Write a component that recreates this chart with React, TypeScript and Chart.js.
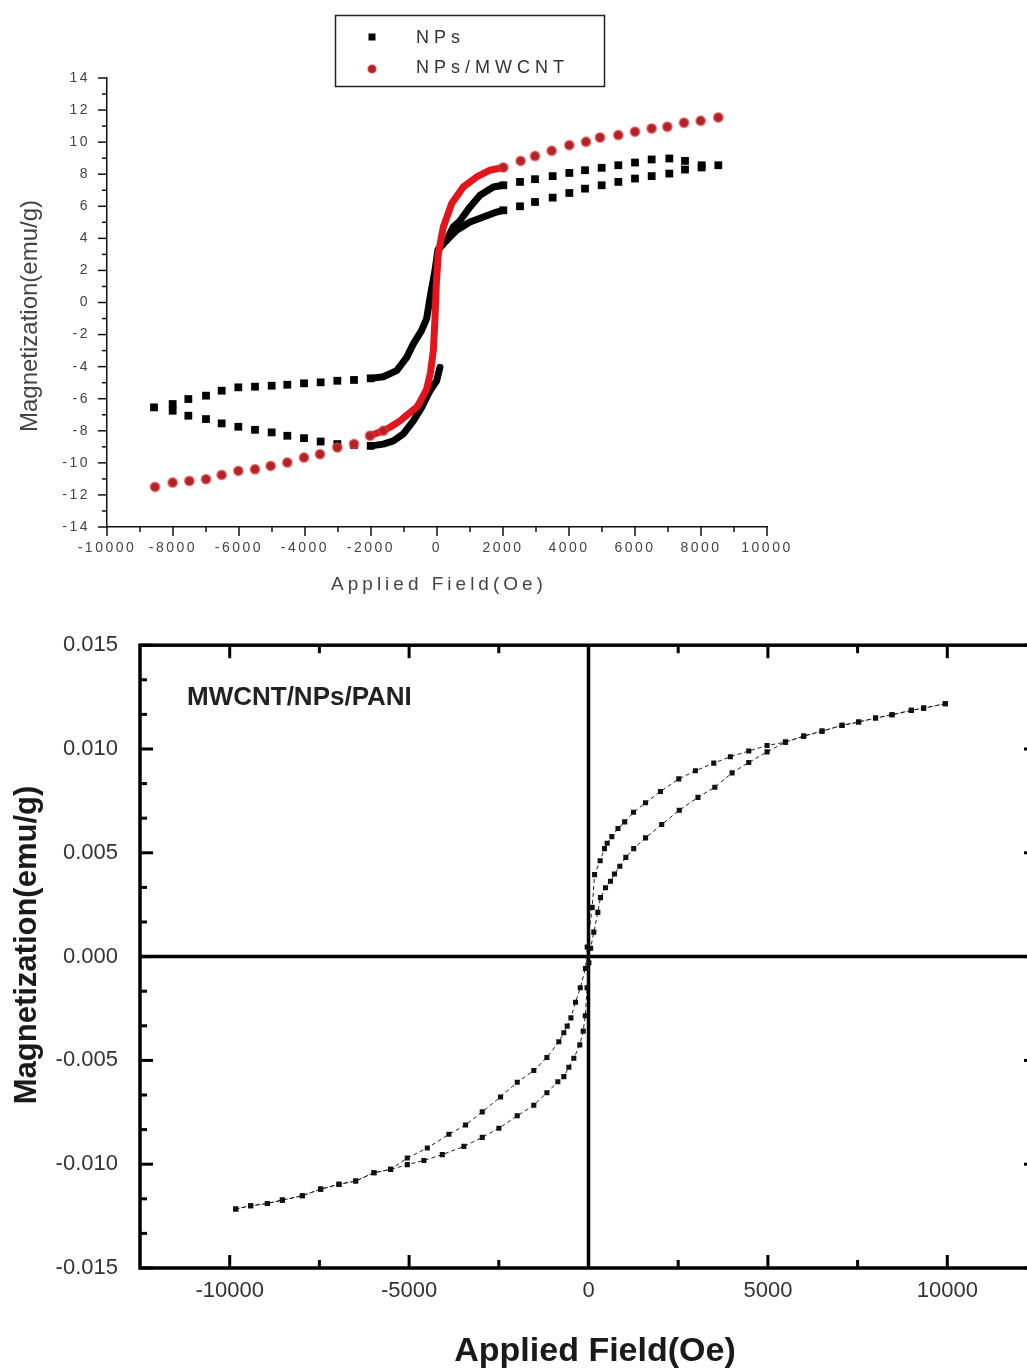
import React, { useEffect, useRef } from "react";
import { Chart, registerables } from "chart.js";

Chart.register(...registerables);

const FONT = "'Liberation Sans', Arial, Helvetica, sans-serif";

// ================= Top chart: NPs and NPs/MWCNT =================
const topXTicks = [-10000, -8000, -6000, -4000, -2000, 0, 2000, 4000, 6000, 8000, 10000];
const topXMinor = [-9000, -7000, -5000, -3000, -1000, 1000, 3000, 5000, 7000, 9000];
const topYTicks = [-14, -12, -10, -8, -6, -4, -2, 0, 2, 4, 6, 8, 10, 12, 14];
const topYMinor = [-13, -11, -9, -7, -5, -3, -1, 1, 3, 5, 7, 9, 11, 13];

// NPs (black squares) - sparse measured points
const npsUpperRight = [
  [2010, 7.31], [2515, 7.52], [2970, 7.69], [3505, 7.88], [4010, 8.08], [4485, 8.25], [4990, 8.4],
  [5495, 8.56], [6000, 8.73], [6505, 8.92], [7040, 8.98], [7515, 8.83], [8020, 8.56], [8525, 8.56],
];
const npsLowerRight = [
  [2010, 5.75], [2515, 6.0], [2970, 6.27], [3505, 6.54], [4010, 6.83], [4485, 7.1], [4990, 7.31],
  [5495, 7.52], [6000, 7.73], [6505, 7.88], [7040, 8.04], [7515, 8.29], [8020, 8.42],
];
const npsUpperLeft = [
  [-2010, -4.73], [-2515, -4.83], [-3020, -4.88], [-3525, -4.98], [-4030, -5.04], [-4536, -5.13],
  [-5010, -5.19], [-5515, -5.25], [-6020, -5.29], [-6525, -5.5], [-7000, -5.81], [-7535, -6.02],
  [-8010, -6.33], [-8576, -6.54],
];
const npsLowerLeft = [
  [-8010, -6.75], [-7535, -7.06], [-7000, -7.27], [-6525, -7.54], [-6020, -7.75], [-5515, -7.94],
  [-5010, -8.1], [-4536, -8.31], [-4030, -8.46], [-3525, -8.67], [-3020, -8.83], [-2515, -8.88],
  [-2010, -8.94],
];
// NPs - densely sampled parts near zero field
const npsDenseUpper = [
  [2010, 7.31], [1707, 7.2], [1303, 6.69], [1000, 5.96], [697, 5.1], [485, 4.7], [300, 3.9],
  [150, 3.55], [30, 3.3], [-60, 2.0], [-212, 0.3], [-313, -1.0], [-470, -1.75], [-717, -2.58],
  [-918, -3.42], [-1222, -4.25], [-1627, -4.63], [-2010, -4.73],
];
const npsDenseLower = [
  [-2010, -8.94], [-1627, -8.83], [-1323, -8.63], [-1020, -8.2], [-717, -7.38], [-465, -6.54],
  [-212, -5.5], [-10, -4.88], [90, -4.04],
];
const npsDenseRight = [
  [300, 3.9], [596, 4.5], [1000, 5.02], [1403, 5.33], [1808, 5.64], [2010, 5.75],
];

// NPs/MWCNT (red circles)
const mwcntUpperRight = [
  [2010, 8.42], [2535, 8.83], [2970, 9.13], [3475, 9.46], [4010, 9.81], [4515, 10.02], [4940, 10.29],
  [5495, 10.44], [6000, 10.65], [6505, 10.85], [6980, 10.96], [7485, 11.21], [7990, 11.33], [8525, 11.54],
];
const mwcntLowerLeft = [
  [-1627, -8.0], [-2030, -8.31], [-2515, -8.83], [-3020, -9.04], [-3545, -9.46], [-4030, -9.67],
  [-4536, -9.98], [-5040, -10.19], [-5515, -10.4], [-6020, -10.5], [-6525, -10.75], [-7000, -11.02],
  [-7505, -11.13], [-8010, -11.23], [-8545, -11.5],
];
const mwcntDense = [
  [2010, 8.42], [1606, 8.25], [1202, 7.83], [798, 7.21], [444, 6.17], [192, 4.71], [40, 3.04],
  [-20, 1.2], [-61, -1.0], [-111, -3.0], [-200, -4.4], [-313, -5.4], [-515, -6.2], [-616, -6.54],
  [-900, -7.0], [-1121, -7.38], [-1400, -7.75], [-1627, -8.0], [-2030, -8.31],
];

// ================= Bottom chart: MWCNT/NPs/PANI =================
const panXTicks = [-10000, -5000, 0, 5000, 10000];
const panXMinor = [-7500, -2500, 2500, 7500];
const panYTicks = [-0.015, -0.01, -0.005, 0, 0.005, 0.01, 0.015];
const panYMinor = [
  -0.013333, -0.011667, -0.008333, -0.006667, -0.003333, -0.001667,
  0.001667, 0.003333, 0.006667, 0.008333, 0.011667, 0.013333,
];

const panDescending = [
  [9944, 0.01218], [9341, 0.01197], [8997, 0.01186], [8459, 0.01165], [8000, 0.01149], [7529, 0.0113],
  [7066, 0.01114], [6509, 0.01086], [5997, 0.01062], [5487, 0.01033], [4977, 0.01017], [4466, 0.0099],
  [3955, 0.00963], [3491, 0.00932], [2980, 0.00895], [2516, 0.00856], [2005, 0.00795], [1590, 0.00741],
  [1254, 0.00695], [1008, 0.00649], [822, 0.00617], [650, 0.00578], [520, 0.00546], [446, 0.0052],
  [325, 0.00462], [170, 0.00395], [103, 0.00237], [-36, 0.00046], [-84, -0.00057], [-230, -0.0015],
  [-362, -0.0022], [-490, -0.00295], [-594, -0.00335], [-687, -0.00367], [-827, -0.0041],
  [-1160, -0.00486], [-1524, -0.00549], [-1986, -0.00605], [-2451, -0.00676], [-2961, -0.00748],
  [-3426, -0.00811], [-3890, -0.00856], [-4492, -0.00922], [-5050, -0.0097], [-5515, -0.01025],
  [-5980, -0.01041], [-6490, -0.01081], [-6955, -0.01097], [-7465, -0.0112], [-7975, -0.01152],
  [-8532, -0.01173], [-8950, -0.01189], [-9415, -0.012], [-9833, -0.01216],
];
const panAscending = [
  [-9833, -0.01216], [-9415, -0.012], [-8950, -0.01189], [-8532, -0.01173], [-7975, -0.01152],
  [-7465, -0.0112], [-6955, -0.01097], [-6490, -0.01081], [-5980, -0.01041], [-5515, -0.01025],
  [-5050, -0.01002], [-4587, -0.00982], [-4075, -0.00954], [-3473, -0.00914], [-2961, -0.00871],
  [-2498, -0.00827], [-1986, -0.00767], [-1524, -0.00716], [-1160, -0.00656], [-855, -0.00603],
  [-687, -0.00578], [-548, -0.00533], [-409, -0.0049], [-242, -0.00425], [-148, -0.00359],
  [-90, -0.00285], [-40, -0.0015], [10, -0.0003], [60, 0.0004], [148, 0.00118], [260, 0.00213],
  [334, 0.00284], [474, 0.00332], [613, 0.00363], [724, 0.00398], [873, 0.00435], [1040, 0.00478],
  [1260, 0.0052], [1590, 0.00572], [2040, 0.00636], [2530, 0.00705], [3050, 0.00767], [3520, 0.00816],
  [4003, 0.00885], [4466, 0.00935], [4977, 0.00986], [5487, 0.01033], [5997, 0.01062], [6509, 0.01086],
  [7066, 0.01114], [7529, 0.0113], [8000, 0.01149], [8459, 0.01165], [8997, 0.01186], [9341, 0.01197],
  [9944, 0.01218],
];

const toXY = (pairs: number[][]) => pairs.map(([x, y]) => ({ x, y }));

// ---------------- plugins ----------------
function spacingPlugin(spacing: string) {
  return {
    id: "tickSpacing",
    beforeDraw(chart: any) {
      chart.ctx.letterSpacing = spacing;
    },
    afterDraw(chart: any) {
      chart.ctx.letterSpacing = "0px";
    },
  };
}

function ticksPlugin(specs: any[]) {
  return {
    id: "axisTicks",
    afterDraw(chart: any) {
      const { ctx, chartArea: ca } = chart;
      ctx.save();
      ctx.lineCap = "butt";
      for (const s of specs) {
        const scale = chart.scales[s.axis];
        ctx.strokeStyle = s.color;
        ctx.lineWidth = s.width;
        const groups: [number[], number][] = [
          [s.major, s.majorLen],
          [s.minor, s.minorLen],
        ];
        for (const [vals, len] of groups) {
          for (const v of vals) {
            const p = scale.getPixelForValue(v);
            for (const side of s.sides) {
              const inward = s.dir === "in";
              ctx.beginPath();
              if (side === "bottom") {
                ctx.moveTo(p, ca.bottom);
                ctx.lineTo(p, ca.bottom + (inward ? -len : len));
              } else if (side === "top") {
                ctx.moveTo(p, ca.top);
                ctx.lineTo(p, ca.top + (inward ? len : -len));
              } else if (side === "left") {
                ctx.moveTo(ca.left, p);
                ctx.lineTo(ca.left + (inward ? len : -len), p);
              } else {
                ctx.moveTo(ca.right, p);
                ctx.lineTo(ca.right + (inward ? -len : len), p);
              }
              ctx.stroke();
            }
          }
        }
      }
      ctx.restore();
    },
  };
}

function textPlugin(items: any[]) {
  return {
    id: "texts",
    afterDraw(chart: any) {
      const ctx = chart.ctx;
      for (const t of items) {
        ctx.save();
        ctx.letterSpacing = t.spacing || "0px";
        ctx.font = t.font;
        ctx.fillStyle = t.color;
        ctx.textAlign = t.align || "center";
        ctx.textBaseline = "middle";
        ctx.translate(t.x, t.y);
        if (t.rotate) ctx.rotate(t.rotate);
        ctx.fillText(t.text, 0, 0);
        ctx.restore();
      }
    },
  };
}

function legendPlugin(cfg: any) {
  return {
    id: "boxLegend",
    afterDraw(chart: any) {
      const ctx = chart.ctx;
      ctx.save();
      ctx.strokeStyle = "#222";
      ctx.lineWidth = 1.5;
      ctx.strokeRect(cfg.box.x, cfg.box.y, cfg.box.w, cfg.box.h);
      for (const it of cfg.items) {
        const ds = chart.data.datasets[it.dataset];
        ctx.fillStyle = ds.pointBackgroundColor;
        if (ds.pointStyle === "rect") {
          ctx.fillRect(it.mx - 3.5, it.my - 3.5, 7, 7);
        } else {
          ctx.beginPath();
          ctx.arc(it.mx, it.my, 4, 0, Math.PI * 2);
          ctx.fill();
          ctx.strokeStyle = ds.pointBorderColor;
          ctx.lineWidth = 1.5;
          ctx.stroke();
        }
        ctx.letterSpacing = cfg.spacing;
        ctx.font = cfg.font;
        ctx.fillStyle = cfg.color;
        ctx.textAlign = "left";
        ctx.textBaseline = "middle";
        ctx.fillText(ds.label, it.tx, it.ty);
        ctx.letterSpacing = "0px";
      }
      ctx.restore();
    },
  };
}

function framePlugin() {
  return {
    id: "frame",
    beforeDatasetsDraw(chart: any) {
      const { ctx, chartArea: ca, scales } = chart;
      ctx.save();
      ctx.strokeStyle = "#000";
      ctx.lineWidth = 3.5;
      const x0 = scales.x.getPixelForValue(0);
      const y0 = scales.y.getPixelForValue(0);
      ctx.beginPath();
      ctx.moveTo(x0, ca.top);
      ctx.lineTo(x0, ca.bottom);
      ctx.moveTo(ca.left, y0);
      ctx.lineTo(ca.right, y0);
      ctx.stroke();
      ctx.restore();
    },
    afterDraw(chart: any) {
      const { ctx, chartArea: ca } = chart;
      ctx.save();
      ctx.strokeStyle = "#000";
      ctx.lineWidth = 3.5;
      ctx.strokeRect(ca.left, ca.top, ca.right - ca.left, ca.bottom - ca.top);
      ctx.restore();
    },
  };
}

function makeTopChart(canvas: HTMLCanvasElement) {
  const blackPts = {
    pointStyle: "rect",
    pointRadius: 5.5,
    pointBackgroundColor: "#000",
    pointBorderWidth: 0,
    showLine: false,
    order: 3,
  };
  const blackLine = {
    showLine: true,
    pointRadius: 0,
    borderColor: "#000",
    borderWidth: 7,
    borderJoinStyle: "round",
    borderCapStyle: "round",
    order: 4,
  };
  const redPts = {
    pointStyle: "circle",
    pointRadius: 4.5,
    pointBackgroundColor: "#ad252b",
    pointBorderColor: "rgba(232,60,60,0.6)",
    pointBorderWidth: 2,
    showLine: false,
    order: 1,
  };
  const redLine = {
    showLine: true,
    pointRadius: 0,
    borderColor: "#e3141b",
    borderWidth: 7,
    borderJoinStyle: "round",
    borderCapStyle: "round",
    order: 2,
  };
  return new Chart(canvas, {
    type: "scatter",
    data: {
      datasets: [
        { ...blackPts, label: "NPs", data: toXY([...npsUpperRight, ...npsLowerRight, ...npsUpperLeft, ...npsLowerLeft]) },
        { ...redPts, label: "NPs/MWCNT", data: toXY([...mwcntUpperRight, ...mwcntLowerLeft]) },
        { ...blackLine, label: "NPs dense 1", data: toXY(npsDenseUpper) },
        { ...blackLine, label: "NPs dense 2", data: toXY(npsDenseLower) },
        { ...blackLine, label: "NPs dense 3", data: toXY(npsDenseRight) },
        { ...redLine, label: "NPs/MWCNT dense", data: toXY(mwcntDense) },
      ] as any,
    },
    options: {
      animation: false,
      responsive: false,
      maintainAspectRatio: false,
      layout: { padding: { left: 0, right: 260, top: 78, bottom: 0 } },
      scales: {
        x: {
          type: "linear",
          min: -10000,
          max: 10000,
          afterFit: (s: any) => { s.height = 83; },
          afterBuildTicks: (s: any) => { s.ticks = topXTicks.map((v) => ({ value: v })); },
          grid: { display: false, drawTicks: false },
          border: { display: true, color: "#111", width: 1.5 },
          ticks: {
            font: { family: FONT, size: 14 },
            color: "#444",
            padding: 13,
            maxRotation: 0,
            autoSkip: false,
            callback: (v: any) => String(v),
          },
        },
        y: {
          type: "linear",
          min: -14,
          max: 14,
          afterFit: (s: any) => { s.width = 107; },
          afterBuildTicks: (s: any) => { s.ticks = topYTicks.map((v) => ({ value: v })); },
          grid: { display: false, drawTicks: false },
          border: { display: true, color: "#111", width: 1.5 },
          ticks: {
            font: { family: FONT, size: 14 },
            color: "#444",
            padding: 17,
            autoSkip: false,
            callback: (v: any) => String(v),
          },
        },
      },
      plugins: { legend: { display: false }, tooltip: { enabled: false } },
    } as any,
    plugins: [
      spacingPlugin("2.5px"),
      ticksPlugin([
        { axis: "x", sides: ["bottom"], dir: "out", major: topXTicks, minor: topXMinor, majorLen: 9, minorLen: 5, width: 1.5, color: "#111" },
        { axis: "y", sides: ["left"], dir: "out", major: topYTicks, minor: topYMinor, majorLen: 9, minorLen: 5, width: 1.5, color: "#111" },
      ]),
      textPlugin([
        { text: "Applied Field(Oe)", x: 439, y: 585, font: `19px ${FONT}`, color: "#444", spacing: "4px" },
        { text: "Magnetization(emu/g)", x: 30, y: 316, rotate: -Math.PI / 2, font: `24px ${FONT}`, color: "#444" },
      ]),
      legendPlugin({
        box: { x: 335.5, y: 15.5, w: 269, h: 71 },
        font: `18px ${FONT}`,
        color: "#333",
        spacing: "5px",
        items: [
          { dataset: 0, mx: 372, my: 37, tx: 416, ty: 38 },
          { dataset: 1, mx: 372, my: 69, tx: 416, ty: 68 },
        ],
      }),
    ],
  });
}

function makeBottomChart(canvas: HTMLCanvasElement) {
  const branch = {
    showLine: true,
    borderColor: "#222",
    borderWidth: 1,
    borderDash: [4, 3],
    pointStyle: "rect",
    pointRadius: 3.6,
    pointBackgroundColor: "#111",
    pointBorderWidth: 0,
  };
  return new Chart(canvas, {
    type: "scatter",
    data: {
      datasets: [
        { ...branch, label: "MWCNT/NPs/PANI (descending)", data: toXY(panDescending) },
        { ...branch, label: "MWCNT/NPs/PANI (ascending)", data: toXY(panAscending) },
      ] as any,
    },
    options: {
      animation: false,
      responsive: false,
      maintainAspectRatio: false,
      layout: { padding: { left: 0, right: 63, top: 28, bottom: 0 } },
      scales: {
        x: {
          type: "linear",
          min: -12500,
          max: 12500,
          afterFit: (s: any) => { s.height = 104; },
          afterBuildTicks: (s: any) => { s.ticks = panXTicks.map((v) => ({ value: v })); },
          grid: { display: false, drawTicks: false },
          border: { display: false },
          ticks: {
            font: { family: FONT, size: 22 },
            color: "#333",
            padding: 10,
            maxRotation: 0,
            autoSkip: false,
            callback: (v: any) => String(v),
          },
        },
        y: {
          type: "linear",
          min: -0.015,
          max: 0.015,
          afterFit: (s: any) => { s.width = 140; },
          afterBuildTicks: (s: any) => { s.ticks = panYTicks.map((v) => ({ value: v })); },
          grid: { display: false, drawTicks: false },
          border: { display: false },
          ticks: {
            font: { family: FONT, size: 22 },
            color: "#333",
            padding: 22,
            autoSkip: false,
            callback: (v: any) => (Math.abs(v) < 1e-9 ? "0.000" : Number(v).toFixed(3)),
          },
        },
      },
      plugins: { legend: { display: false }, tooltip: { enabled: false } },
    } as any,
    plugins: [
      framePlugin(),
      ticksPlugin([
        { axis: "x", sides: ["bottom", "top"], dir: "in", major: panXTicks, minor: panXMinor, majorLen: 13, minorLen: 8, width: 3, color: "#000" },
        { axis: "y", sides: ["left", "right"], dir: "in", major: panYTicks, minor: panYMinor, majorLen: 13, minorLen: 7, width: 3, color: "#000" },
      ]),
      textPlugin([
        { text: "MWCNT/NPs/PANI", x: 187, y: 88, align: "left", font: `bold 26px ${FONT}`, color: "#222" },
        { text: "Applied Field(Oe)", x: 595, y: 742, font: `bold 34px ${FONT}`, color: "#1a1a1a" },
        { text: "Magnetization(emu/g)", x: 27, y: 335, rotate: -Math.PI / 2, font: `bold 31px ${FONT}`, color: "#1a1a1a" },
      ]),
    ],
  });
}

export default function App() {
  const topRef = useRef<HTMLCanvasElement | null>(null);
  const botRef = useRef<HTMLCanvasElement | null>(null);

  useEffect(() => {
    const c1 = topRef.current ? makeTopChart(topRef.current) : null;
    const c2 = botRef.current ? makeBottomChart(botRef.current) : null;
    return () => {
      c1 && c1.destroy();
      c2 && c2.destroy();
    };
  }, []);

  return (
    <div
      style={{
        position: "absolute",
        left: 0,
        top: 0,
        width: 1027,
        height: 1372,
        overflow: "hidden",
        background: "#fff",
      }}
    >
      <canvas
        ref={topRef}
        width={1027}
        height={610}
        style={{ position: "absolute", left: 0, top: 0, width: 1027, height: 610 }}
      />
      <canvas
        ref={botRef}
        width={1100}
        height={762}
        style={{ position: "absolute", left: 0, top: 610, width: 1100, height: 762 }}
      />
    </div>
  );
}
